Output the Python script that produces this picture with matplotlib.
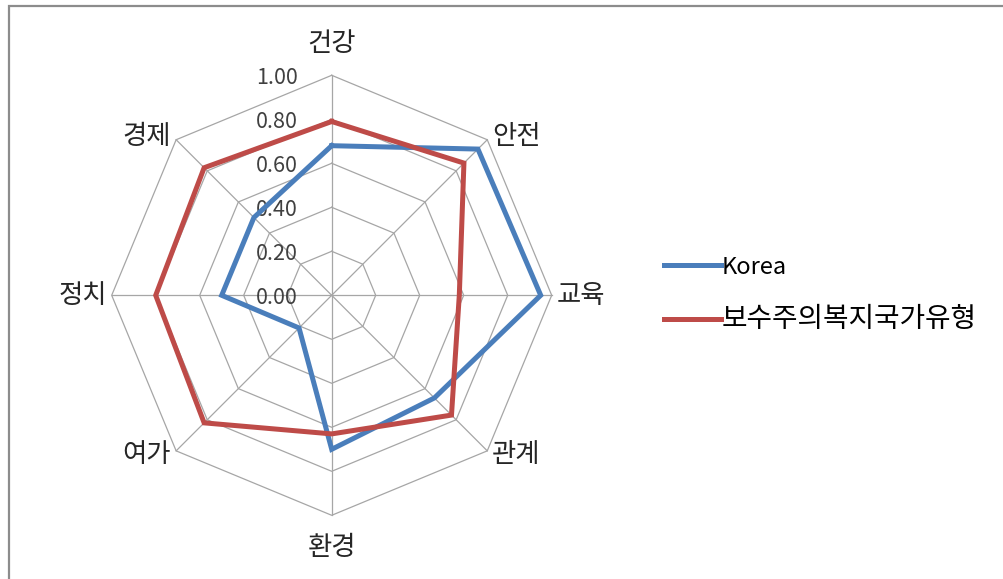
import numpy as np
import matplotlib
matplotlib.use("Agg")
import matplotlib.pyplot as plt
from matplotlib.patches import Rectangle

plt.rcParams['font.family'] = ['Noto Sans CJK KR', 'DejaVu Sans']

categories = ["건강", "안전", "교육", "관계", "환경", "여가", "정치", "경제"]
korea = [0.68, 0.94, 0.95, 0.66, 0.70, 0.21, 0.50, 0.50]
conservative = [0.79, 0.85, 0.58, 0.77, 0.63, 0.82, 0.80, 0.82]
series_names = ["Korea", "보수주의복지국가유형"]
ticks = [0.0, 0.2, 0.4, 0.6, 0.8, 1.0]

W, H = 1004, 579
CX, CY = 331.7, 295.3      # radar centre in pixels (from top-left)
R = 220.0                  # pixels per unit radius
px = 1.0 / R

fig = plt.figure(figsize=(W / 100, H / 100), dpi=100)
ax = fig.add_axes([0, 0, 1, 1])
ax.set_xlim(-CX / R, (W - CX) / R)
ax.set_ylim(-(H - CY) / R, CY / R)
ax.axis("off")

n = len(categories)
ang = np.pi / 2 - np.arange(n) * 2 * np.pi / n   # clockwise from top
ux, uy = np.cos(ang), np.sin(ang)

grid_c = "#a6a6a6"
# polygon rings and spokes
for t in ticks[1:]:
    ax.plot(np.append(ux, ux[0]) * t, np.append(uy, uy[0]) * t,
            color=grid_c, lw=0.9, zorder=1)
for x, y in zip(ux, uy):
    ax.plot([0, x], [0, y], color=grid_c, lw=0.9, zorder=1)

# radial tick labels
for t in ticks:
    ax.text(-34 * px, t - 3 * px, f"{t:.2f}", ha="right", va="center",
            fontsize=15.5, color="#404040", zorder=3)

# category labels
for lab, x, y in zip(categories, ux, uy):
    if abs(x) < 0.1:
        ax.text(x, y + np.sign(y) * 32 * px, lab, ha="center", va="center",
                fontsize=19, color="#262626")
    else:
        ha = "left" if x > 0 else "right"
        dy = 0 if abs(y) < 0.1 else (3 * px if y > 0 else -4 * px)
        ax.text(x + np.sign(x) * 5 * px, y + dy, lab, ha=ha, va="center",
                fontsize=19, color="#262626")

colors = ["#4a7ebb", "#be4b48"]
for name, vals, c in zip(series_names, [korea, conservative], colors):
    v = np.array(vals)
    ax.plot(np.append(ux * v, ux[0] * v[0]), np.append(uy * v, uy[0] * v[0]),
            color=c, lw=3.6, solid_joinstyle="miter", label=name, zorder=4)

leg = ax.legend(loc="center left", bbox_to_anchor=(664 / W, 1 - 295 / H),
                bbox_transform=fig.transFigure, frameon=False,
                fontsize=17, handlelength=2.4, handletextpad=0.05,
                labelspacing=1.1, borderpad=0, borderaxespad=0)
for line in leg.get_lines():
    line.set_linewidth(3.6)
leg.get_texts()[1].set_fontsize(20)

# outer chart frame
fig.add_artist(Rectangle((9 / W, -0.05), 1.1, 1 - 6 / H + 0.05,
                         transform=fig.transFigure, fill=False,
                         edgecolor="#8c8c8c", lw=1.6))

fig.savefig("out.png", dpi=100)
